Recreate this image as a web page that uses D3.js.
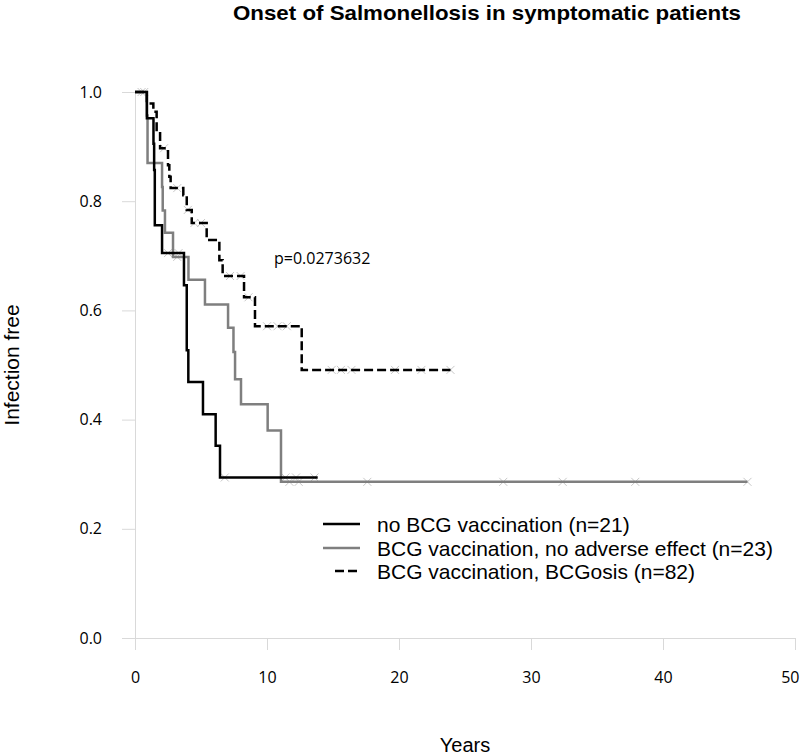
<!DOCTYPE html>
<html><head><meta charset="utf-8">
<script src="https://cdnjs.cloudflare.com/ajax/libs/d3/7.8.5/d3.min.js"></script>
<style>html,body{margin:0;padding:0;background:#fff;}</style>
</head><body>
<svg id="chart" width="800" height="756"></svg>
<script>
// ---- data ----
const title = "Onset of Salmonellosis in symptomatic patients";
const xLabel = "Years";
const yLabel = "Infection free";
const pText = "p=0.0273632";
const xTicks = [0, 10, 20, 30, 40, 50];
const yTicks = [0.0, 0.2, 0.4, 0.6, 0.8, 1.0];

const noBcgTimes = [0, 0.9, 1.4, 1.45, 1.5, 2.05, 3.71, 3.92, 4.04, 5.15, 6.11, 6.44];
const noBcgSurv  = [1, 0.952, 0.905, 0.857, 0.756, 0.705, 0.646, 0.527, 0.469, 0.41, 0.352, 0.294];
const noBcgEnd = 13.84;
const noBcgCensor = [2.5, 3.3, 6.8, 11.4, 12.2, 13.6];

const bcgTimes = [0, 0.9, 0.95, 2.05, 2.1, 2.27, 2.88, 4.05, 5.3, 7.05, 7.46, 7.58, 8.03, 10.05, 11.06];
const bcgSurv  = [1, 0.957, 0.87, 0.826, 0.783, 0.742, 0.698, 0.656, 0.611, 0.568, 0.524, 0.474, 0.428, 0.38, 0.286];
const bcgEnd = 46.4;
const bcgCensor = [3.2, 11.7, 12.4, 17.6, 27.9, 32.4, 37.9, 46.4];

const bcgosisTimes = [0, 0.89, 1.39, 1.64, 1.9, 2.5, 2.6, 2.7, 3.66, 3.92, 4.3, 5.43, 6.39, 6.64, 8.26, 9.09, 12.63];
const bcgosisSurv  = [1, 0.979, 0.964, 0.927, 0.897, 0.866, 0.845, 0.824, 0.811, 0.784, 0.76, 0.729, 0.692, 0.663, 0.624, 0.571, 0.491];
const bcgosisEnd = 23.9;
const bcgosisCensor = [0.5, 0.7, 2.2, 3.2, 4.0, 4.5, 5.0, 7.2, 8.0, 8.6, 10.0, 10.8, 11.5, 14.9, 15.6, 16.4, 19.7, 21.7, 23.9];

const legendLabels = ["no BCG vaccination (n=21)", "BCG vaccination, no adverse effect (n=23)", "BCG vaccination, BCGosis (n=82)"];

// ---- drawing ----
const svg = d3.select("#chart");
const x = d3.scaleLinear().domain([0, 50]).range([135, 795]);
const y = d3.scaleLinear().domain([0, 1]).range([638, 92]);
const axisColor = "#d9d9d9";

// axes
const gx = svg.append("g").attr("transform", "translate(0,638)")
  .call(d3.axisBottom(x).tickValues(xTicks).tickFormat(d3.format("d")).tickSize(12).tickSizeOuter(0).tickPadding(22));
const gy = svg.append("g").attr("transform", "translate(135,0)")
  .call(d3.axisLeft(y).tickValues(yTicks).tickFormat(d3.format(".1f")).tickSize(13).tickSizeOuter(0).tickPadding(20));
[gx, gy].forEach(g => {
  g.selectAll("path.domain").attr("stroke", axisColor).attr("stroke-width", 1);
  g.selectAll(".tick line").attr("stroke", axisColor).attr("stroke-width", 1);
  g.selectAll(".tick text").attr("fill", "#000").style("font-family", "'Open Sans', sans-serif").style("font-size", "16px");
});
// keep the last x tick label inside the canvas
gx.selectAll(".tick text").filter(d => d === 50).attr("text-anchor", "end").attr("x", 4);

// curves
const series = [
  {times: noBcgTimes, surv: noBcgSurv, end: noBcgEnd, censor: noBcgCensor, color: "#000", dash: null},
  {times: bcgTimes, surv: bcgSurv, end: bcgEnd, censor: bcgCensor, color: "#7f7f7f", dash: null},
  {times: bcgosisTimes, surv: bcgosisSurv, end: bcgosisEnd, censor: bcgosisCensor, color: "#000", dash: "9,4"}
];

function stepAt(s, t) {
  let v = s.surv[0];
  for (let i = 0; i < s.times.length; i++) if (s.times[i] <= t) v = s.surv[i];
  return v;
}

const line = d3.line().x(d => x(d[0])).y(d => y(d[1])).curve(d3.curveStepAfter);

// censor marks (faint crosses)
series.forEach(s => {
  const g = svg.append("g");
  s.censor.forEach(t => {
    const cx = x(t), cy = y(stepAt(s, t));
    g.append("path").attr("d", `M${cx-4},${cy-4}L${cx+4},${cy+4}M${cx-4},${cy+4}L${cx+4},${cy-4}`)
      .attr("stroke", "#c8c8c8").attr("stroke-width", 1).attr("fill", "none");
  });
});

series.slice().reverse().forEach(s => {
  const pts = s.times.map((t, i) => [t, s.surv[i]]);
  pts.push([s.end, s.surv[s.surv.length - 1]]);
  svg.append("path").datum(pts).attr("d", line)
    .attr("fill", "none").attr("stroke", s.color).attr("stroke-width", 2.5)
    .attr("stroke-dasharray", s.dash);
});

// title
svg.append("text").attr("x", 487).attr("y", 20).attr("text-anchor", "middle")
  .attr("textLength", 508).attr("lengthAdjust", "spacingAndGlyphs")
  .style("font-family", "'Liberation Sans', Arial, sans-serif").style("font-weight", "bold").style("font-size", "21px")
  .text(title);

// p value
svg.append("text").attr("x", 274).attr("y", 264)
  .style("font-family", "'Open Sans', sans-serif").style("font-size", "16px").text(pText);

// axis labels
svg.append("text").attr("x", 465).attr("y", 752).attr("text-anchor", "middle")
  .style("font-family", "'Liberation Sans', Arial, sans-serif").style("font-size", "20px").text(xLabel);
svg.append("text").attr("transform", "translate(19,365) rotate(-90)").attr("text-anchor", "middle")
  .style("font-family", "'Liberation Sans', Arial, sans-serif").style("font-size", "21px").text(yLabel);

// legend
const legY = [524, 548, 571];
const leg = svg.append("g");
legendLabels.forEach((lab, i) => {
  const s = series[i];
  leg.append("line").attr("x1", s.dash ? 335 : 323).attr("x2", s.dash ? 357 : 360)
    .attr("y1", legY[i]).attr("y2", legY[i])
    .attr("stroke", s.color).attr("stroke-width", 2.5).attr("stroke-dasharray", s.dash);
  leg.append("text").attr("x", 377).attr("y", legY[i]).attr("dy", "0.36em")
    .style("font-family", "'Liberation Sans', Arial, sans-serif").style("font-size", "21px").text(lab);
});
</script>
</body></html>
